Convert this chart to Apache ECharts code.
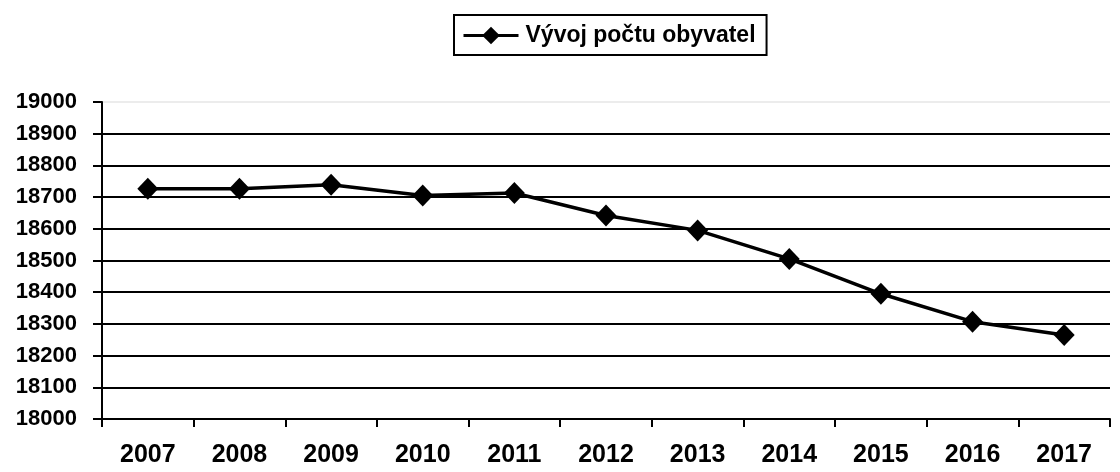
<!DOCTYPE html>
<html>
<head>
<meta charset="utf-8">
<script src="https://cdn.jsdelivr.net/npm/echarts@6/dist/echarts.min.js"></script>
<style>
  html, body { margin: 0; padding: 0; background: #fff; }
  #chart { width: 1120px; height: 472px; }
</style>
</head>
<body>
<div id="chart"></div>
<script>
  // data
  var years = ['2007', '2008', '2009', '2010', '2011', '2012', '2013', '2014', '2015', '2016', '2017'];
  var population = [18726, 18726, 18739, 18705, 18713, 18642, 18595, 18505, 18395, 18307, 18265];
  var seriesName = 'Vývoj počtu obyvatel';

  var font = 'Arial, "Liberation Sans", sans-serif';
  // gridlines go 18000 -> 19000, top one is pale
  var gridColors = ['#000', '#000', '#000', '#000', '#000', '#000', '#000', '#000', '#000', '#000', '#ececec'];

  var chart = echarts.init(document.getElementById('chart'));
  chart.setOption({
    animation: false,
    legend: {
      top: 15,
      left: 454,
      data: [seriesName],
      borderColor: '#000',
      borderWidth: 2,
      padding: [9, 11, 8, 8],
      itemWidth: 55,
      itemHeight: 22,
      lineStyle: { width: 3 },
      textStyle: { fontFamily: font, fontWeight: 'bold', fontSize: 23, color: '#000', padding: [0, 0, 0, 2] }
    },
    grid: { left: 102, right: 10, top: 102, bottom: 53 },
    xAxis: {
      type: 'category',
      data: years,
      boundaryGap: true,
      axisLine: { lineStyle: { color: '#000', width: 2 } },
      axisTick: { show: true, length: 8, lineStyle: { color: '#000', width: 2 } },
      axisLabel: { margin: 24, fontFamily: font, fontWeight: 'bold', fontSize: 25, color: '#000' }
    },
    yAxis: {
      type: 'value',
      min: 18000,
      max: 19000,
      interval: 100,
      axisLine: { show: true, lineStyle: { color: '#000', width: 2 } },
      axisTick: { show: true, length: 9, lineStyle: { color: '#000', width: 2 } },
      axisLabel: {
        margin: 25, fontFamily: font, fontWeight: 'bold', fontSize: 22, color: '#000',
        formatter: function (v) { return String(v); }
      },
      splitLine: { show: true, lineStyle: { color: gridColors, width: 2 } }
    },
    series: [{
      name: seriesName,
      type: 'line',
      data: population,
      symbol: 'diamond',
      symbolSize: [21, 22],
      lineStyle: { color: '#000', width: 3.5 },
      itemStyle: { color: '#000' }
    }]
  });
</script>
</body>
</html>
